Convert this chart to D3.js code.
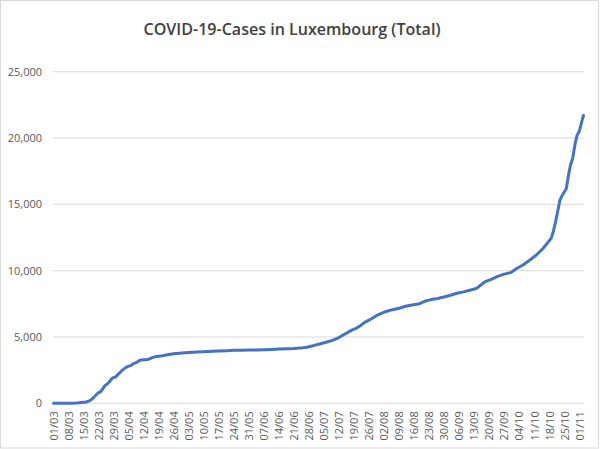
<!DOCTYPE html>
<html>
<head>
<meta charset="utf-8">
<script src="https://cdn.jsdelivr.net/npm/d3@7"></script>
<style>
  body { margin: 0; background: #fff; }
  #chart { width: 600px; height: 449px; }
</style>
</head>
<body>
<div id="chart"></div>
<script>
const dates = [
    "01/03", "08/03", "12/03", "15/03", "16/03", "17/03", "18/03", "19/03", "20/03", "21/03",
    "22/03", "23/03", "24/03", "25/03", "26/03", "27/03", "28/03", "29/03", "30/03", "31/03",
    "01/04", "02/04", "03/04", "04/04", "05/04", "06/04", "07/04", "08/04", "09/04", "10/04",
    "11/04", "12/04", "13/04", "14/04", "15/04", "16/04", "18/04", "20/04", "23/04", "26/04",
    "30/04", "03/05", "07/05", "10/05", "14/05", "17/05", "21/05", "24/05", "28/05", "31/05",
    "04/06", "07/06", "11/06", "14/06", "18/06", "21/06", "24/06", "27/06", "30/06", "03/07",
    "06/07", "09/07", "12/07", "14/07", "16/07", "18/07", "20/07", "22/07", "24/07", "26/07",
    "28/07", "30/07", "01/08", "03/08", "06/08", "09/08", "12/08", "15/08", "18/08", "21/08",
    "24/08", "27/08", "30/08", "02/09", "05/09", "08/09", "11/09", "14/09", "16/09", "18/09",
    "21/09", "24/09", "27/09", "30/09", "03/10", "06/10", "09/10", "12/10", "15/10", "17/10",
    "19/10", "20/10", "21/10", "22/10", "23/10", "24/10", "26/10", "27/10", "28/10", "29/10",
    "30/10", "31/10", "01/11", "02/11", "03/11"
];

const cases = [
    1, 3, 26, 77, 81, 140, 203, 335, 484, 670,
    798, 875, 1099, 1333, 1453, 1605, 1831, 1950, 1988, 2178,
    2319, 2487, 2612, 2729, 2804, 2843, 2970, 3034, 3115, 3223,
    3270, 3281, 3292, 3307, 3373, 3444, 3537, 3558, 3654, 3729,
    3784, 3828, 3859, 3886, 3915, 3945, 3971, 3993, 4008, 4016,
    4027, 4040, 4063, 4085, 4120, 4133, 4160, 4230, 4345, 4475,
    4600, 4740, 4960, 5150, 5330, 5520, 5650, 5850, 6100, 6270,
    6450, 6650, 6800, 6920, 7060, 7160, 7320, 7410, 7480, 7690,
    7820, 7900, 8020, 8150, 8300, 8400, 8520, 8650, 8900, 9150,
    9350, 9570, 9740, 9850, 10180, 10450, 10800, 11180, 11650, 12050,
    12450, 13000, 13700, 14500, 15300, 15650, 16200, 17200, 18000, 18500,
    19500, 20200, 20500, 21100, 21700
];

const xTickLabels = [
    "01/03", "08/03", "15/03", "22/03", "29/03", "05/04", "12/04", "19/04", "26/04", "03/05",
    "10/05", "17/05", "24/05", "31/05", "07/06", "14/06", "21/06", "28/06", "05/07", "12/07",
    "19/07", "26/07", "02/08", "09/08", "16/08", "23/08", "30/08", "06/09", "13/09", "20/09",
    "27/09", "04/10", "11/10", "18/10", "25/10", "01/11"
];

const yTicks = [0, 5000, 10000, 15000, 20000, 25000];

const title = "COVID-19-Cases in Luxembourg (Total)";

const parseDate = d3.timeParse("%d/%m/%Y");
const toDate = s => parseDate(s + "/2020");
const data = dates.map((d, i) => ({ date: toDate(d), value: cases[i] }));

const width = 600, height = 449;
const plot = { left: 53, right: 584, top: 71.7, bottom: 403.3 };

const svg = d3.select("#chart")
    .append("svg")
    .attr("width", width)
    .attr("height", height)
    .style("font-family", "'Open Sans', sans-serif");

svg.append("rect")
    .attr("x", 0.5)
    .attr("y", 0.5)
    .attr("width", width - 2)
    .attr("height", height - 1.5)
    .attr("fill", "#fff")
    .attr("stroke", "#d9d9d9");

const xScale = d3.scaleTime()
    .domain([toDate("01/03"), toDate("03/11")])
    .range([53.5, 583.5]);
const yScale = d3.scaleLinear()
    .domain([0, 25000])
    .range([plot.bottom, plot.top]);

svg.selectAll(".gridLine")
    .data(yTicks)
    .enter().append("line")
    .attr("class", "gridLine")
    .attr("x1", plot.left)
    .attr("x2", plot.right)
    .attr("y1", d => yScale(d))
    .attr("y2", d => yScale(d))
    .attr("stroke", "#d9d9d9")
    .attr("stroke-width", 1);

const yAxis = d3.axisLeft(yScale)
    .tickValues(yTicks)
    .tickSize(0)
    .tickPadding(0)
    .tickFormat(d3.format(","));
svg.append("g")
    .attr("class", "y-axis")
    .attr("transform", `translate(${plot.left - 11},0)`)
    .call(yAxis)
    .call(g => g.select(".domain").remove())
    .selectAll("text")
    .attr("fill", "#595959")
    .attr("font-size", "11px")
    .attr("font-family", "'Open Sans', sans-serif");

const xAxis = d3.axisBottom(xScale)
    .tickValues(xTickLabels.map(toDate))
    .tickSize(0)
    .tickFormat(d3.timeFormat("%d/%m"));
svg.append("g")
    .attr("class", "x-axis")
    .attr("transform", `translate(0,${plot.bottom})`)
    .call(xAxis)
    .call(g => g.select(".domain").remove())
    .selectAll("text")
    .attr("transform", "rotate(-90)")
    .attr("x", -8)
    .attr("y", 0)
    .attr("dy", "0.35em")
    .attr("text-anchor", "end")
    .attr("fill", "#595959")
    .attr("font-size", "11px")
    .attr("font-family", "'Open Sans', sans-serif");

const line = d3.line()
    .x(d => xScale(d.date))
    .y(d => yScale(d.value));

svg.append("path")
    .datum(data)
    .attr("d", line)
    .attr("fill", "none")
    .attr("stroke", "#4472c4")
    .attr("stroke-width", 3)
    .attr("stroke-linejoin", "round")
    .attr("stroke-linecap", "round");

svg.append("text")
    .attr("x", 292)
    .attr("y", 35)
    .attr("text-anchor", "middle")
    .attr("font-size", "17px")
    .attr("font-weight", 600)
    .attr("fill", "#404040")
    .attr("textLength", 297)
    .attr("lengthAdjust", "spacingAndGlyphs")
    .text(title);
</script>
</body>
</html>
